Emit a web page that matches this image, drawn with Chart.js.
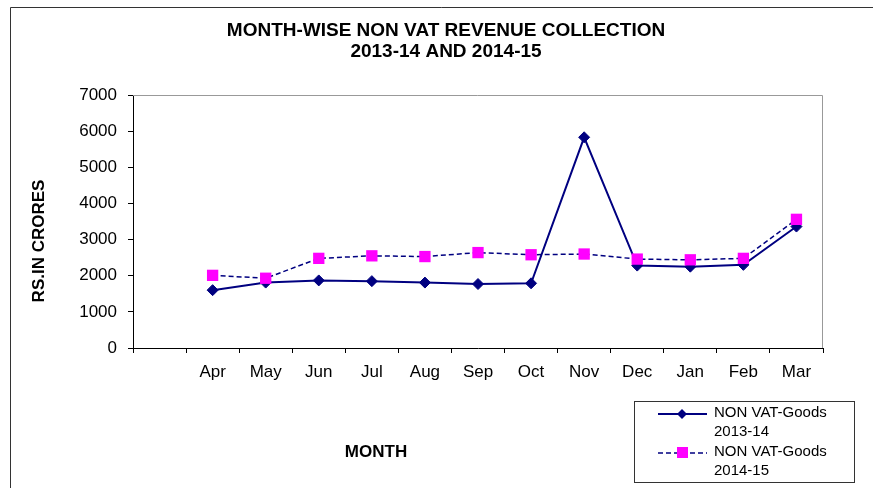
<!DOCTYPE html>
<html>
<head>
<meta charset="utf-8">
<script src="https://cdn.jsdelivr.net/npm/chart.js@4.4.0/dist/chart.umd.min.js"></script>
<style>
  html, body { margin: 0; padding: 0; background: #fff; }
</style>
</head>
<body>
<canvas id="chart" width="873" height="488"></canvas>
<script>
var months = ['', 'Apr', 'May', 'Jun', 'Jul', 'Aug', 'Sep', 'Oct', 'Nov', 'Dec', 'Jan', 'Feb', 'Mar'];
var goods1314 = [null, 1600, 1810, 1870, 1850, 1810, 1770, 1790, 5830, 2280, 2250, 2300, 3360];
var goods1415 = [null, 2010, 1930, 2480, 2550, 2530, 2640, 2580, 2600, 2460, 2440, 2480, 3560];
var seriesNames = [['NON VAT-Goods', '2013-14'], ['NON VAT-Goods', '2014-15']];
var titleLines = ['MONTH-WISE NON VAT REVENUE COLLECTION', '2013-14 AND 2014-15'];

var FONT = '"Liberation Sans", Arial, sans-serif';
var NAVY = '#000080';
var MAGENTA = '#FF00FF';

function diamond(ctx, x, y, r) {
  ctx.beginPath();
  ctx.moveTo(x, y - r);
  ctx.lineTo(x + r, y);
  ctx.lineTo(x, y + r);
  ctx.lineTo(x - r, y);
  ctx.closePath();
  ctx.fillStyle = NAVY;
  ctx.fill();
}

// titles, borders and the boxed legend
var decor = {
  id: 'decor',
  afterDraw: function(chart) {
    var ctx = chart.ctx;
    var a = chart.chartArea;
    ctx.save();

    // outer frame (left and top only show)
    ctx.strokeStyle = '#333';
    ctx.lineWidth = 1;
    ctx.beginPath();
    ctx.moveTo(10.5, 488);
    ctx.lineTo(10.5, 7.5);
    ctx.lineTo(873, 7.5);
    ctx.stroke();

    // plot top + right border
    ctx.strokeStyle = '#999';
    ctx.beginPath();
    ctx.moveTo(a.left, a.top + 0.5);
    ctx.lineTo(a.right - 0.5, a.top + 0.5);
    ctx.lineTo(a.right - 0.5, a.bottom);
    ctx.stroke();

    ctx.fillStyle = '#000';
    ctx.textAlign = 'center';
    ctx.textBaseline = 'middle';
    ctx.font = 'bold 19px ' + FONT;
    ctx.fillText(titleLines[0], 446, 31);
    ctx.fillText(titleLines[1], 446, 52);

    ctx.font = 'bold 17px ' + FONT;
    ctx.fillText('MONTH', 376, 452);
    ctx.save();
    ctx.translate(39, 241);
    ctx.rotate(-Math.PI / 2);
    ctx.fillText('RS.IN CRORES', 0, 0);
    ctx.restore();

    // legend box
    ctx.strokeStyle = '#333';
    ctx.strokeRect(634.5, 401.5, 220, 81);
    ctx.font = '15px ' + FONT;
    ctx.textAlign = 'left';

    ctx.strokeStyle = NAVY;
    ctx.lineWidth = 2;
    ctx.setLineDash([]);
    ctx.beginPath();
    ctx.moveTo(658, 414);
    ctx.lineTo(707, 414);
    ctx.stroke();
    diamond(ctx, 682, 414, 5);
    ctx.fillStyle = '#000';
    ctx.fillText(seriesNames[0][0], 714, 413);
    ctx.fillText(seriesNames[0][1], 714, 432);

    ctx.lineWidth = 1.5;
    ctx.setLineDash([5, 3]);
    ctx.beginPath();
    ctx.moveTo(658, 453);
    ctx.lineTo(707, 453);
    ctx.stroke();
    ctx.setLineDash([]);
    ctx.fillStyle = MAGENTA;
    ctx.fillRect(677, 447, 11, 11);
    ctx.fillStyle = '#000';
    ctx.fillText(seriesNames[1][0], 714, 452);
    ctx.fillText(seriesNames[1][1], 714, 471);

    ctx.restore();
  }
};

var ctx = document.getElementById('chart').getContext('2d');
var myChart = new Chart(ctx, {
  type: 'line',
  data: {
    labels: months,
    datasets: [
      {
        label: 'NON VAT-Goods 2013-14',
        data: goods1314,
        borderColor: NAVY,
        backgroundColor: NAVY,
        borderWidth: 2,
        pointStyle: 'rectRot',
        pointRadius: 5.5,
        pointBorderWidth: 1,
        pointBackgroundColor: NAVY,
        pointBorderColor: NAVY,
        tension: 0,
        order: 1
      },
      {
        label: 'NON VAT-Goods 2014-15',
        data: goods1415,
        borderColor: NAVY,
        borderWidth: 1.5,
        borderDash: [5, 3],
        pointStyle: 'rect',
        pointRadius: 8,
        pointBorderWidth: 0,
        pointBackgroundColor: MAGENTA,
        pointBorderColor: MAGENTA,
        tension: 0,
        order: 0
      }
    ]
  },
  options: {
    responsive: false,
    animation: false,
    devicePixelRatio: 1,
    layout: { padding: { top: 95, right: 50, left: 0, bottom: 0 } },
    plugins: {
      legend: { display: false },
      title: { display: false },
      tooltip: { enabled: false }
    },
    scales: {
      x: {
        offset: true,
        grid: { drawOnChartArea: false, offset: true, tickLength: 5, color: '#000' },
        border: { color: '#000' },
        ticks: { color: '#000', font: { family: FONT, size: 17 }, padding: 9, maxRotation: 0, autoSkip: false },
        afterFit: function(s) { s.height = 140; }
      },
      y: {
        min: 0,
        max: 7000,
        grid: { drawOnChartArea: false, tickLength: 5, color: '#000' },
        border: { color: '#000' },
        ticks: {
          stepSize: 1000,
          color: '#000',
          font: { family: FONT, size: 17 },
          padding: 11,
          callback: function(v) { return String(v); }
        },
        afterFit: function(s) { s.width = 133; }
      }
    }
  },
  plugins: [decor]
});
</script>
</body>
</html>
